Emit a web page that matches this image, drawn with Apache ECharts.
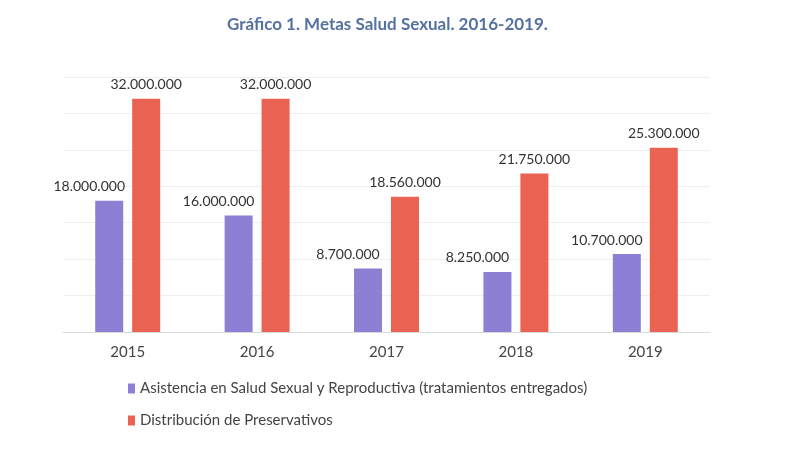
<!DOCTYPE html>
<html><head><meta charset="utf-8">
<script src="https://cdn.jsdelivr.net/npm/echarts@6/dist/echarts.min.js"></script>
<style>html,body{margin:0;padding:0;background:#fff}#c{width:800px;height:458px}</style>
</head><body><div id="c"></div>
<script>
const categories = ['2015', '2016', '2017', '2018', '2019'];
const asistencia = [18000000, 16000000, 8700000, 8250000, 10700000];
const preservativos = [32000000, 32000000, 18560000, 21750000, 25300000];
const seriesNames = ['Asistencia en Salud Sexual y Reproductiva (tratamientos entregados)', 'Distribución de Preservativos'];
const titleText = 'Gráfico 1. Metas Salud Sexual. 2016-2019.';

function fmt(v) { return String(v).replace(/\B(?=(\d{3})+(?!\d))/g, '.'); }

const chart = echarts.init(document.getElementById('c'));
chart.setOption({
  animation: false,
  textStyle: { fontFamily: 'Lato' },
  title: { text: titleText, left: 222, top: 11,
    textStyle: { fontFamily: 'Lato', fontSize: 17, fontWeight: 'bold', color: '#5571a0' } },
  grid: { left: 63, right: 90, top: 77, bottom: 126 },
  legend: { orient: 'vertical', left: 123, top: 376, itemGap: 17, itemWidth: 7, itemHeight: 10,
    icon: 'rect', textStyle: { fontFamily: 'Lato', fontSize: 15, color: '#444' } },
  xAxis: { type: 'category', data: categories,
    axisLine: { lineStyle: { color: '#d9d9d9' } }, axisTick: { show: false },
    axisLabel: { fontFamily: 'Lato', fontSize: 15, color: '#444', margin: 13 } },
  yAxis: { type: 'value', min: 0, max: 35000000, interval: 5000000,
    axisLabel: { show: false }, axisLine: { show: false }, axisTick: { show: false },
    splitLine: { lineStyle: { color: '#efefef' } } },
  series: [
    { name: seriesNames[0], type: 'bar', data: asistencia, barWidth: 28, barGap: '32%',
      itemStyle: { color: '#8c7fd4' },
      label: { show: true, position: 'top', distance: 7, offset: [-20, 0], formatter: p => fmt(p.value),
        fontFamily: 'Lato', fontSize: 14, color: '#333' } },
    { name: seriesNames[1], type: 'bar', data: preservativos, barWidth: 28,
      itemStyle: { color: '#ea6352' },
      label: { show: true, position: 'top', distance: 7, formatter: p => fmt(p.value),
        fontFamily: 'Lato', fontSize: 14, color: '#333' } }
  ]
});
</script></body></html>
